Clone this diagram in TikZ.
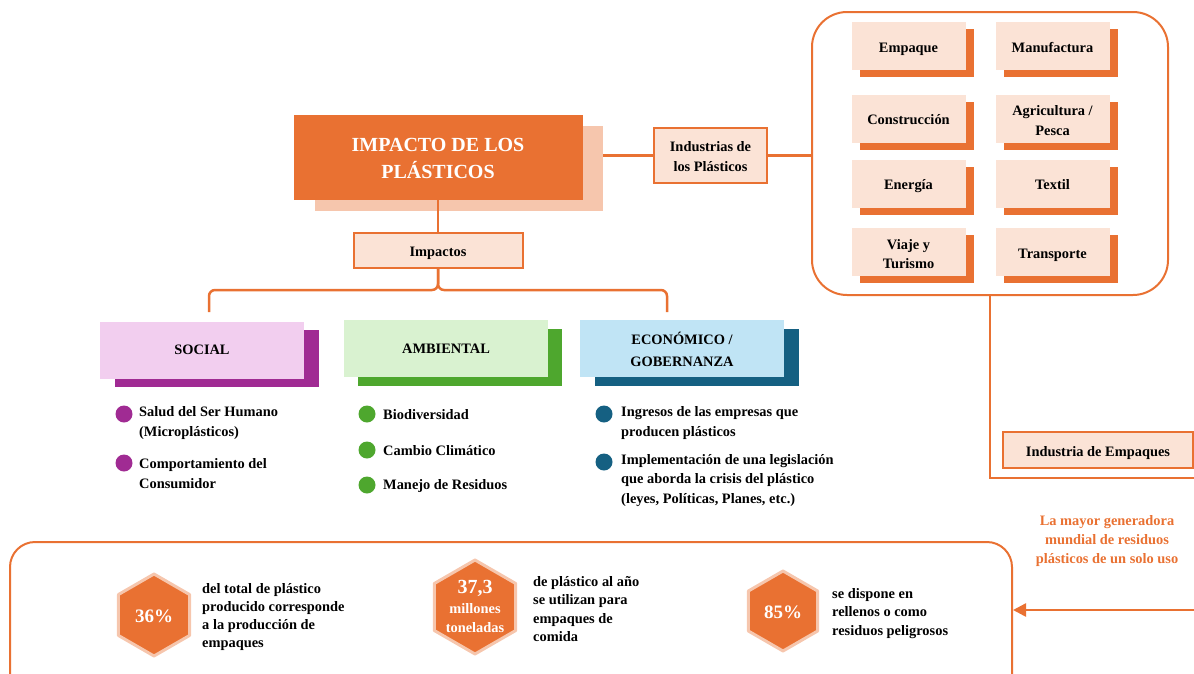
\documentclass[tikz,border=0pt]{standalone}
\usepackage{fontspec}
\setmainfont{Liberation Serif}
\usetikzlibrary{arrows.meta}
\definecolor{orng}{RGB}{233,113,50}
\definecolor{peach}{RGB}{251,227,214}
\definecolor{peachdark}{RGB}{246,198,173}
\definecolor{socfront}{RGB}{242,206,239}
\definecolor{socback}{RGB}{160,43,147}
\definecolor{ambfront}{RGB}{217,242,208}
\definecolor{ambback}{RGB}{78,167,46}
\definecolor{ecofront}{RGB}{192,228,245}
\definecolor{ecoback}{RGB}{21,96,130}
\newcommand\fsz[2]{\fontsize{#1}{#2}\selectfont\bfseries}
\newcommand\lowstrut[1]{\rule{0pt}{#1}}
\begin{document}
\begin{tikzpicture}[x=1pt,y=-1pt,
  txt/.style={font=\fsz{14.4}{19.5}, inner sep=0pt},
  sinkt/.style={text height=12.4pt, text depth=0pt},
  conn/.style={draw=orng, line width=2.5pt},
  peachbox/.style={txt, draw=orng, line width=2pt, fill=peach, align=center},
  indbox/.style={txt, fill=peach, minimum width=114pt, minimum height=48pt, align=center},
  indshadow/.style={fill=orng, minimum width=114pt, minimum height=48pt, inner sep=0pt},
  catfront/.style={txt, minimum width=204pt, minimum height=57pt, align=center},
  catback/.style={minimum width=204pt, minimum height=57pt, inner sep=0pt},
  bul/.style={circle, minimum size=17pt, inner sep=0pt},
  btxt/.style={txt, align=left, anchor=west},
  hexline/.style={fill=orng, draw=peachdark, line width=3pt, line join=round},
  hextxt/.style={txt, text=white, align=center},
  frame/.style={draw=orng, line width=2pt}
]
\useasboundingbox (0,0) rectangle (1194,673);
\clip (0,0) rectangle (1194,673);

% title
\node[fill=peachdark, minimum width=288pt, minimum height=85pt, inner sep=0pt] (titleshadow) at (459,168.5) {};
\node[fill=orng, minimum width=289pt, minimum height=85pt, inner sep=0pt, text=white,
      font=\fsz{20}{27}, align=center] (title) at (438,157.5) {\lowstrut{16pt}IMPACTO DE LOS\\PLÁSTICOS};

% impactos
\node[peachbox, sinkt, minimum width=169pt, minimum height=35pt] (impactos) at (438,250.5) {Impactos};
\draw[conn] (title.south) -- (impactos.north);

% bracket
\coordinate (bl) at (209,312);
\coordinate (br) at (667,312);
\coordinate (bm) at (438,290);
\draw[conn, rounded corners=6pt] (bl) |- (bm) -- (impactos.south);
\draw[conn, rounded corners=6pt] (br) |- (bm) -- (impactos.south);

% industrias
\node[frame, rounded corners=35pt, minimum width=356pt, minimum height=283pt, inner sep=0pt] (bigbox) at (990,153.5) {};
\node[peachbox, minimum width=113pt, minimum height=55pt] (industrias) at (710.5,155.5) {\lowstrut{12.5pt}Industrias de\\los Plásticos};
\draw[conn] (industrias.west -| titleshadow.east) -- (industrias.west);
\draw[conn] (industrias.east) -- (industrias.east -| bigbox.west);

\node[indshadow] (s1) at (916.5,53) {};
\node[indbox, sinkt] (empaque) at (908.5,46) {Empaque};
\node[indshadow] (s2) at (1060.5,53) {};
\node[indbox, sinkt] (manufactura) at (1052.5,46) {Manufactura};
\node[indshadow] (s3) at (916.5,125.5) {};
\node[indbox, sinkt] (construccion) at (908.5,118.5) {Construcción};
\node[indshadow] (s4) at (1060.5,125.5) {};
\node[indbox] (agricultura) at (1052.5,118.5) {\lowstrut{14pt}Agricultura /\\Pesca};
\node[indshadow] (s5) at (916.5,190.5) {};
\node[indbox, sinkt] (energia) at (908.5,183.5) {Energía};
\node[indshadow] (s6) at (1060.5,190.5) {};
\node[indbox, sinkt] (textil) at (1052.5,183.5) {Textil};
\node[indshadow] (s7) at (916.5,259) {};
\node[indbox] (viaje) at (908.5,252) {\lowstrut{14pt}Viaje y\\Turismo};
\node[indshadow] (s8) at (1060.5,259) {};
\node[indbox, sinkt] (transporte) at (1052.5,252) {Transporte};

% industria de empaques
\coordinate (framend) at (1200,478);
\draw[conn] (bigbox.south) |- (framend);
\node[peachbox, sinkt, minimum width=190pt, minimum height=36pt] (empaques) at (1098,450) {Industria de Empaques};

\node[txt, text=orng, align=center, font=\fsz{14.4}{19}] (caption) at (1107,541)
  {La mayor generadora\\mundial de residuos\\plásticos de un solo uso};

% categories
\node[catback, fill=socback] (socialb) at (217,358) {};
\node[catfront, fill=socfront] (social) at (202,350) {SOCIAL};
\node[catback, fill=ambback] (ambb) at (460,357) {};
\node[catfront, fill=ambfront] (ambiental) at (446,348.5) {AMBIENTAL};
\node[catback, fill=ecoback] (ecob) at (697,357) {};
\node[catfront, fill=ecofront, font=\fsz{14.4}{22}] (economico) at (682,348.5) {\lowstrut{14pt}ECONÓMICO /\\GOBERNANZA};

% bullets social
\node[bul, fill=socback] (b1) at (124,414) {};
\node[btxt, font=\fsz{14.4}{20.5}] (t1) at (139,423) {Salud del Ser Humano\\(Microplásticos)};
\node[bul, fill=socback] (b2) at (124,463) {};
\node[btxt, font=\fsz{14.4}{20.5}] (t2) at (139,473.5) {Comportamiento del\\Consumidor};
% bullets ambiental
\node[bul, fill=ambback] (b3) at (367,414) {};
\node[btxt] (t3) at (383,415) {Biodiversidad};
\node[bul, fill=ambback] (b4) at (367,450) {};
\node[btxt] (t4) at (383,451) {Cambio Climático};
\node[bul, fill=ambback] (b5) at (367,485) {};
\node[btxt] (t5) at (383,486.5) {Manejo de Residuos};
% bullets economico
\node[bul, fill=ecoback] (b6) at (604,414) {};
\node[btxt] (t6) at (621,423) {Ingresos de las empresas que\\producen plásticos};
\node[bul, fill=ecoback] (b7) at (604,462) {};
\node[btxt] (t7) at (621,480.5) {Implementación de una legislación\\que aborda la crisis del plástico\\(leyes, Políticas, Planes, etc.)};

% bottom box
\node[frame, rounded corners=25pt, minimum width=1002pt, minimum height=158pt, inner sep=0pt] (bottombox) at (511,621) {};
\coordinate (arrstart) at (1200,610);
\draw[conn, -{Triangle[length=13pt,width=13pt]}] (arrstart) -- (arrstart -| bottombox.east);

% hexagons
\draw[hexline] (154,615) +(90:41) -- +(30:41) -- +(-30:41) -- +(-90:41) -- +(-150:41) -- +(150:41) -- cycle;
\node[hextxt, font=\fsz{19}{20}] (h36) at (154,616) {36\%};
\node[btxt, font=\fsz{14.4}{18.2}] (d36) at (202,617) {del total de plástico\\producido corresponde\\a la producción de\\empaques};

\draw[hexline] (475,607) +(90:47) -- +(30:47) -- +(-30:47) -- +(-90:47) -- +(-150:47) -- +(150:47) -- cycle;
\node[hextxt, font=\fsz{14.4}{19}] (h37) at (475,606) {{\fsz{20}{22}37,3}\\[1pt]millones\\toneladas};
\node[btxt, font=\fsz{14.4}{18.3}] (d37) at (533,609) {de plástico al año\\se utilizan para\\empaques de\\comida};

\draw[hexline] (783,611) +(90:40) -- +(30:40) -- +(-30:40) -- +(-90:40) -- +(-150:40) -- +(150:40) -- cycle;
\node[hextxt, font=\fsz{19}{20}] (h85) at (783,612) {85\%};
\node[btxt, font=\fsz{14.4}{18.5}] (d85) at (832,613.5) {se dispone en\\rellenos o como\\residuos peligrosos};
\end{tikzpicture}
\end{document}
